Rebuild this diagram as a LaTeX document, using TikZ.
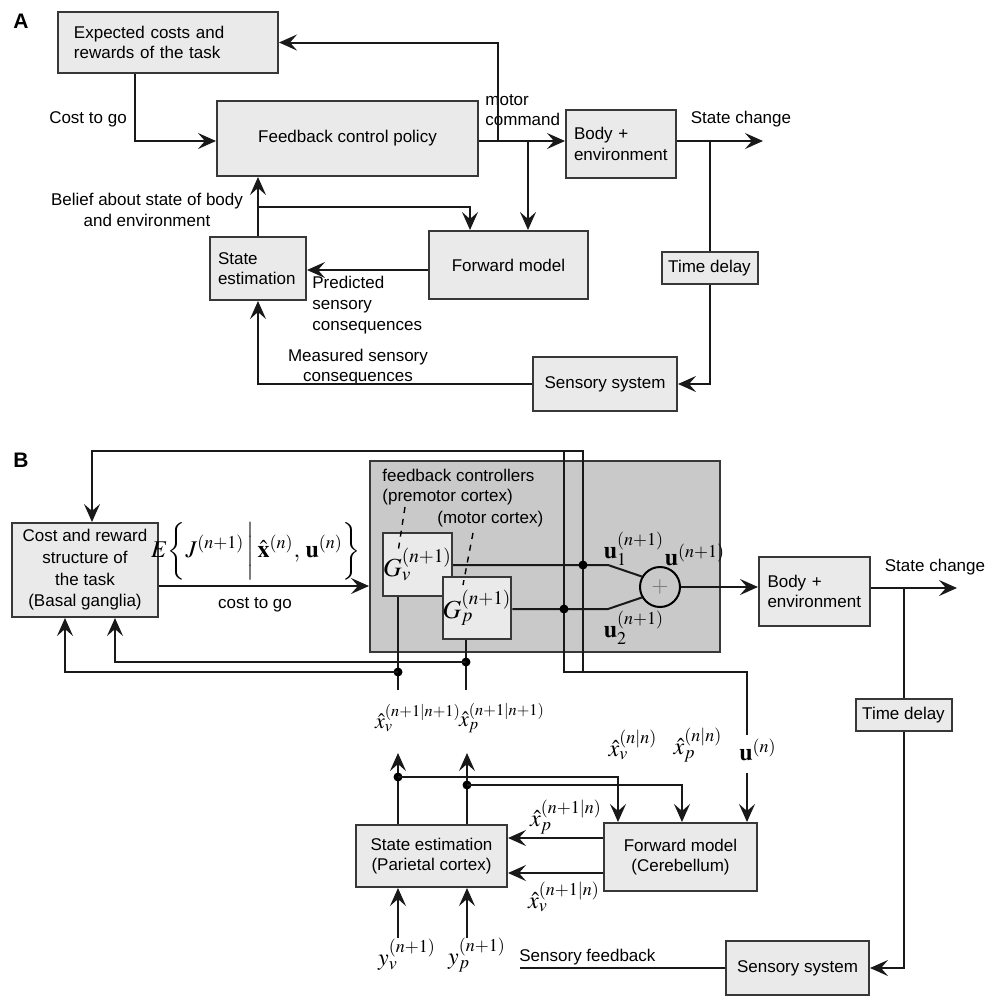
\documentclass[tikz,border=0pt]{standalone}
\usepackage{mathptmx}
\usepackage[no-math]{fontspec}
\setmainfont{Liberation Sans}
\usetikzlibrary{arrows.meta}
\definecolor{boxfill}{HTML}{EAEAEA}
\definecolor{grayfill}{HTML}{C9C9C9}
\definecolor{edge}{HTML}{383838}
\newcommand{\npo}{n{+}1}
\begin{document}
\begin{tikzpicture}[x=0.5pt,y=-0.5pt,
 every node/.style={font=\fontsize{8.5}{10.3}\selectfont, inner sep=0pt},
 bx/.style={draw=edge, line width=1pt, fill=boxfill},
 ln/.style={line width=1pt, draw=black!90},
 ar/.style={ln, -{Stealth[length=9pt,width=8pt,inset=3.5pt]}},
 dotc/.style={circle, fill=black, minimum size=4.5pt},
 mth/.style={font=\fontsize{12}{14}\selectfont},
 smth/.style={font=\fontsize{11}{13}\selectfont},
 gmth/.style={font=\fontsize{13}{15}\selectfont},
 ttl/.style={font=\fontsize{10.5}{12}\selectfont\bfseries},
]
\useasboundingbox (0,0) rectangle (994,998);

% ---------------- Panel A ----------------
\node[ttl] (la) at (21,21) {A};
\node[bx, minimum width=110pt, minimum height=30.5pt, text width=94pt, align=left] (exp) at (168,42.5) {Expected costs and\\rewards of the task};
\node[bx, minimum width=130.5pt, minimum height=37.5pt] (fcp) at (347.5,138.5) {Feedback control policy};
\node[bx, minimum width=55pt, minimum height=34pt, text width=47pt, align=left] (body) at (621,144) {Body +\\environment};
\node[bx, minimum width=79.5pt, minimum height=34pt] (fwd) at (508.5,265) {Forward model};
\node[bx, minimum width=48pt, minimum height=31.5pt, text width=40pt, align=left] (se) at (258,268.5) {State\\estimation};
\node[bx, minimum width=48pt, minimum height=16pt] (td) at (709.5,268) {Time delay};
\node[bx, minimum width=72pt, minimum height=27pt] (ss) at (605,384) {Sensory system};

\node (lcost) at (88,119) {Cost to go};
\node[anchor=west, align=left] (lmotor) at (485,110) {motor\\command};
\node (lstate) at (741,119) {State change};
\node[align=center] (lbelief) at (147,210) {Belief about state of body\\and environment};
\node[anchor=west, align=left] (lpred) at (312,305) {Predicted\\sensory\\consequences};
\node[align=center] (lmeas) at (358,367) {Measured sensory\\consequences};

\coordinate (ya) at (0,141);
\coordinate (m1) at (498,141);
\coordinate (m2) at (528,141);
\coordinate (sce) at (763,141);
\coordinate (s1) at (709.5,141);
\coordinate (yp) at (0,270);
\coordinate (bl1) at (258,207);
\coordinate (bl2) at (470,207);

\draw[ar] ([xshift=39pt]exp.south west) |- (fcp.west |- ya);
\draw[ar] (fcp.east |- ya) -- (body.west |- ya);
\draw[ar] (m1) |- (exp.east);
\draw[ar] (m2) -- (m2 |- fwd.north);
\draw[ar] (body.east |- ya) -- (sce);
\draw[ln] (s1) -- (td.north);
\draw[ar] (td.south) |- (ss.east);
\draw[ar] (fwd.west |- yp) -- (se.east |- yp);
\draw[ar] (se.north) -- (se.north |- fcp.south);
\draw[ar] (bl1) -- (bl2) -- (bl2 |- fwd.north);
\draw[ar] (ss.west) -| (se.south);

% ---------------- Panel B ----------------
\node[ttl] (lb) at (21,460) {B};
\node[draw=edge, line width=1pt, fill=grayfill, minimum width=175pt, minimum height=95.5pt] (fbc) at (545,556.5) {};
\node[bx, minimum width=73pt, minimum height=47pt, align=center, font=\fontsize{8.5}{10.85}\selectfont] (cost) at (85,570) {Cost and reward\\structure of\\the task\\(Basal ganglia)};
\node[bx, minimum width=34.5pt, minimum height=31.5pt, gmth] (gv) at (417.5,564.5) {$G_v^{(\npo)}$};
\node[bx, minimum width=33pt, minimum height=31pt, gmth] (gp) at (477,608) {$G_p^{(\npo)}$};
\node[circle, draw=black, line width=1pt, fill=grayfill, minimum size=20pt, text=black!55, font=\fontsize{11}{11}\selectfont] (sum) at (660,587) {$+$};
\node[bx, minimum width=55.5pt, minimum height=34.5pt, text width=47pt, align=left] (bodyB) at (814.5,591.5) {Body +\\environment};
\node[bx, minimum width=48pt, minimum height=16pt] (tdB) at (903.5,715) {Time delay};
\node[bx, minimum width=71.5pt, minimum height=27pt] (ssB) at (797.5,968) {Sensory system};
\node[bx, minimum width=76.5pt, minimum height=34pt, align=center] (fmB) at (680.5,857) {Forward model\\(Cerebellum)};
\node[bx, minimum width=75.5pt, minimum height=31pt, align=center] (seB) at (431.5,856) {State estimation\\(Parietal cortex)};

\node[anchor=west] (lfc) at (382,475) {feedback controllers};
\node[anchor=west] (lpm) at (382,497) {(premotor cortex)};
\node[anchor=west] (lmc) at (437,519) {(motor cortex)};

\node[mth] (ej) at (256,551) {$E\bigg\{J^{(\npo)}\,\bigg|\,\hat{\mathbf{x}}^{(n)},\,\mathbf{u}^{(n)}\bigg\}$};
\node (lctg) at (255,605) {cost to go};
\node[mth] (lu1) at (634,549) {$\mathbf{u}_1^{(\npo)}$};
\node[mth] (lu2) at (634,628) {$\mathbf{u}_2^{(\npo)}$};
\node[mth] (lu) at (695,555) {$\mathbf{u}^{(\npo)}$};
\node[smth] (lxv1) at (418,718) {$\hat{x}_v^{(\npo|\npo)}$};
\node[smth] (lxp1) at (502,718) {$\hat{x}_p^{(\npo|\npo)}$};
\node[mth] (lxvn) at (633,745) {$\hat{x}_v^{(n|n)}$};
\node[mth] (lxpn) at (698,745) {$\hat{x}_p^{(n|n)}$};
\node[mth] (lun) at (758,750) {$\mathbf{u}^{(n)}$};
\node[mth] (lxpp) at (566,817) {$\hat{x}_p^{(\npo|n)}$};
\node[mth] (lxvp) at (564,897) {$\hat{x}_v^{(\npo|n)}$};
\node[mth] (lyv) at (407,955) {$y_v^{(\npo)}$};
\node[mth] (lyp) at (477,955) {$y_p^{(\npo)}$};
\node[anchor=west] (lsf) at (519,957) {Sensory feedback};
\node (lscB) at (935,567) {State change};

\coordinate (qt1) at (583,451);
\coordinate (qt0) at (564,451);
\coordinate (qb1) at (583,672);
\coordinate (qb0) at (564,672);
\coordinate (qu1) at (747,672);
\coordinate (qu2) at (747,735);
\coordinate (qu3) at (747,773);
\coordinate (r1) at (903.5,588);
\coordinate (scB) at (957,588);
\coordinate (sfe) at (520,968);

\draw[ar] (qb1) -- (qt1) -| ([xshift=3.5pt]cost.north);
\draw[ln] (qt0) -- (qb0) -- (qu1) -- (qu2);
\draw[ar] (qu3) -- (qu3 |- fmB.north);
\draw[ln] (gv.east |- 0,565) -- (608,565) -- (sum.150);
\draw[ln] (gp.east |- 0,609) -- (608,609) -- (sum.210);
\draw[ar] (sum.east) -- (sum.east -| bodyB.west);
\draw[ar] (bodyB.east |- r1) -- (scB);
\draw[ln] (r1) -- (tdB.north);
\draw[ar] (tdB.south) |- (ssB.east);
\draw[ln] (ssB.west) -- (sfe);
\draw[ar] (cost.east |- 0,586) -- (fbc.west |- 0,586);

\draw[ln] (gv.south -| 398,0) -- (398,690);
\draw[ln] (gp.south -| 466,0) -- (466,690);
\node[dotc] (d1) at (583,565) {};
\node[dotc] (d2) at (564,609) {};
\node[dotc] (d3) at (398,672) {};
\node[dotc] (d4) at (466,662) {};
\draw[ar] (d3.center) -| (cost.south -| 65,0);
\draw[ar] (d4.center) -| (cost.south -| 115,0);
\draw[ar] (seB.north -| 398,0) -- (398,753);
\draw[ar] (seB.north -| 467,0) -- (467,753);
\node[dotc] (d5) at (398,777) {};
\node[dotc] (d6) at (467,785) {};
\draw[ar] (d5.center) -| (fmB.north -| 618,0);
\draw[ar] (d6.center) -| (fmB.north -| 682,0);
\draw[ar] (fmB.west |- 0,838) -- (seB.east |- 0,838);
\draw[ar] (fmB.west |- 0,873) -- (seB.east |- 0,873);
\draw[ar] (398,938) -- (seB.south -| 398,0);
\draw[ar] (467,938) -- (seB.south -| 467,0);
\draw[dashed, line width=0.7pt] (405,507) -- (398,552);
\draw[dashed, line width=0.7pt] (473,533) -- (463,585);
\end{tikzpicture}
\end{document}
